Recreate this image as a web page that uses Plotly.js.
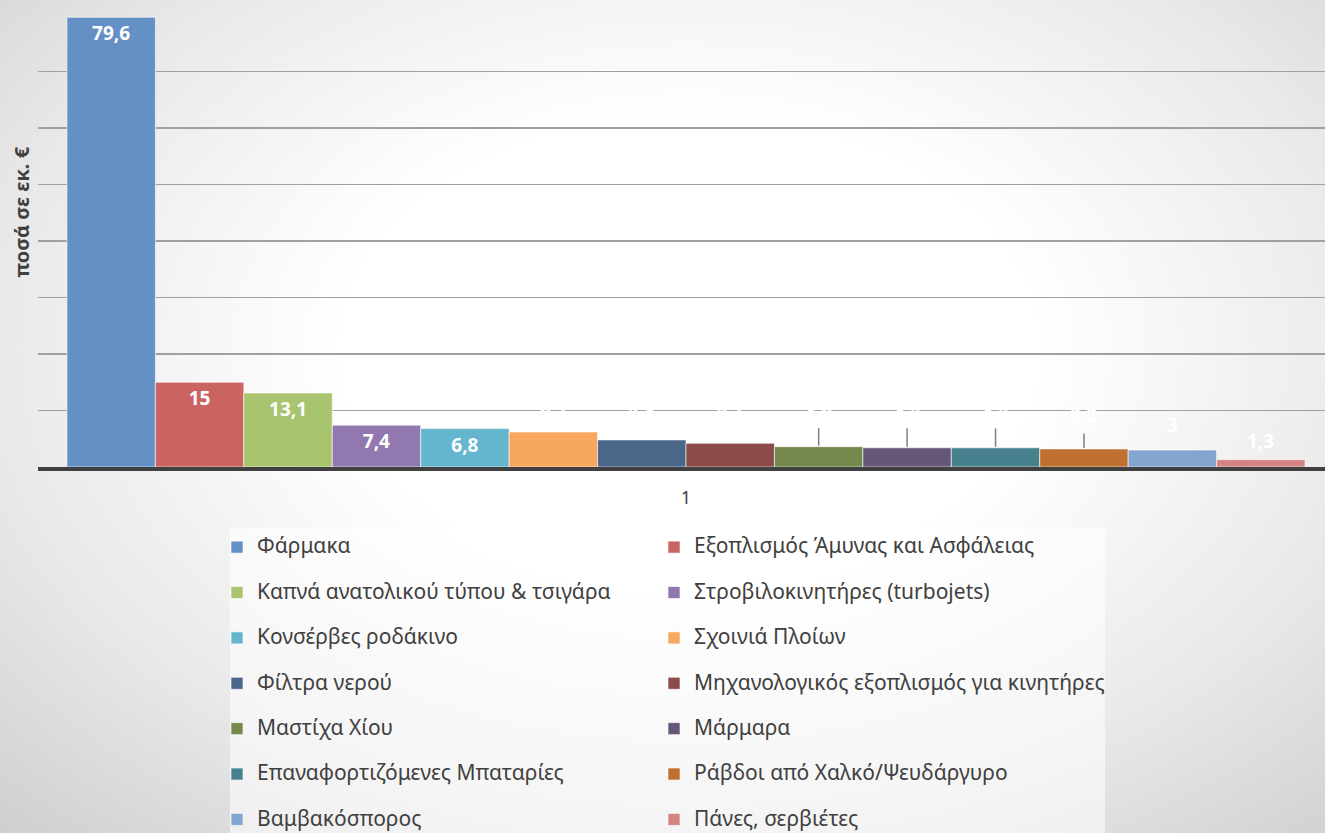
<!DOCTYPE html>
<html>
<head>
<meta charset="utf-8">
<script src="https://cdn.plot.ly/plotly-3.0.1.min.js"></script>
<style>
  html, body { margin:0; padding:0; width:1325px; height:833px; overflow:hidden;
    background: radial-gradient(ellipse 75% 80% at 52% 42%, #ffffff 35%, #e9e9e9 70%, #cfcfcf 100%); }
  #chart { width:1325px; height:833px; }
</style>
</head>
<body>
<div id="chart"></div>
<script>
const categories = ["1"];
const seriesNames = [
  "Φάρμακα",
  "Εξοπλισμός Άμυνας και Ασφάλειας",
  "Καπνά ανατολικού τύπου & τσιγάρα",
  "Στροβιλοκινητήρες (turbojets)",
  "Κονσέρβες ροδάκινο",
  "Σχοινιά Πλοίων",
  "Φίλτρα νερού",
  "Μηχανολογικός εξοπλισμός για κινητήρες",
  "Μαστίχα Χίου",
  "Μάρμαρα",
  "Επαναφορτιζόμενες Μπαταρίες",
  "Ράβδοι από Χαλκό/Ψευδάργυρο",
  "Βαμβακόσπορος",
  "Πάνες, σερβιέτες"
];
const seriesValues = [79.6, 15, 13.1, 7.4, 6.8, 6.2, 4.8, 4.2, 3.6, 3.4, 3.4, 3.2, 3, 1.3];
const seriesColors = ["#6490C6","#C96462","#A8C46E","#9179B0","#63B6CD","#F8A75F",
  "#4A678A","#8A4B4A","#76894D","#66577A","#47818D","#C0702E","#84A5D0","#D48383"];
const yTickValues = [0,10,20,30,40,50,60,70,80];
const yTitle = "ποσά σε εκ. €";

// label styling (pixel offsets of the outside labels above their bars, leader line flag)
const outsideLabelShift = [0, 0, 0, 0, 0, 22, 30, 34, 37, 38, 38, 34, 25, 19];
const hasLeader = [false,false,false,false,false,false,false,false,true,true,true,true,false,false];
const INSIDE_COUNT = 5;

const FONT = "Noto Sans, Open Sans, sans-serif";
const LBL = { color: "#ffffff", size: 19, family: FONT, weight: "bold" };
const BARGAP = 0.038;
const nBars = seriesValues.length;
const fmt = v => String(v).replace(".", ",");

const traces = seriesNames.map((name, i) => ({
  type: "bar",
  name: "<span style='font-size:21px'>" + name + "</span>" + (i < nBars - 2 ? "<br> " : ""),
  legend: i % 2 === 0 ? "legend" : "legend2",
  x: categories,
  y: [seriesValues[i]],
  text: i < INSIDE_COUNT ? [fmt(seriesValues[i])] : [""],
  textposition: i < INSIDE_COUNT ? "inside" : "none",
  insidetextanchor: "end",
  textangle: 0,
  textfont: LBL,
  insidetextfont: LBL,
  marker: { color: seriesColors[i], line: { color: "rgba(255,255,255,0.6)", width: 1 } },
  hoverinfo: "name+y"
}));

// centre of bar i inside the single category group
const groupW = 1 - BARGAP;
const barX = i => -groupW / 2 + (i + 0.5) * groupW / nBars;

const annotations = [{
  text: yTitle,
  xref: "paper", yref: "paper",
  x: -0.0124, y: 0.5624,
  xanchor: "center", yanchor: "middle",
  textangle: -90,
  showarrow: false,
  font: { size: 20, color: "#404040", family: FONT, weight: "bold" }
}];
seriesValues.forEach((v, i) => {
  if (i < INSIDE_COUNT) return;
  if (hasLeader[i]) {
    annotations.push({
      text: fmt(v), xref: "x", yref: "y", x: barX(i), y: v,
      showarrow: true, ax: 0, ay: -outsideLabelShift[i],
      arrowhead: 0, arrowwidth: 1.5, arrowcolor: "#7f7f7f",
      standoff: 1, startstandoff: 4,
      font: LBL
    });
  } else {
    annotations.push({
      text: fmt(v), xref: "x", yref: "y", x: barX(i), y: v,
      showarrow: false, yanchor: "middle", yshift: outsideLabelShift[i],
      font: LBL
    });
  }
});

const legendCommon = {
  orientation: "v",
  xref: "container", yref: "container",
  xanchor: "left", yanchor: "top",
  y: 0.3637,
  bgcolor: "rgba(0,0,0,0)",
  borderwidth: 0,
  valign: "top",
  traceorder: "normal",
  font: { size: 16.3, color: "#404040", family: FONT }
};

const layout = {
  width: 1325, height: 833,
  paper_bgcolor: "rgba(0,0,0,0)",
  plot_bgcolor: "rgba(0,0,0,0)",
  margin: { l: 38, r: 0, t: 15, b: 365.5, pad: 0, autoexpand: false },
  barmode: "group",
  bargap: BARGAP,
  bargroupgap: 0,
  separators: ", ",
  showlegend: true,
  font: { family: FONT, color: "#404040" },
  xaxis: {
    type: "category",
    range: [-0.5035, 0.4965],
    showgrid: false,
    showline: true,
    linecolor: "#404040",
    linewidth: 4,
    ticks: "",
    ticklabelstandoff: 11,
    tickfont: { size: 18, color: "#404040", family: FONT },
    zeroline: false
  },
  yaxis: {
    range: [0, 80],
    tickvals: yTickValues,
    showticklabels: false,
    showgrid: true,
    gridcolor: "#a0a0a0",
    gridwidth: 1.5,
    zeroline: false,
    showline: false,
    ticks: ""
  },
  annotations: annotations,
  shapes: [{
    type: "rect", layer: "below",
    xref: "paper", yref: "paper",
    x0: (230 - 38) / 1287, x1: (1105 - 38) / 1287,
    y0: (467.5 - 840) / 452.5, y1: (467.5 - 528) / 452.5,
    fillcolor: "rgba(255,255,255,0.55)",
    line: { width: 0 }
  }],
  legend: Object.assign({}, legendCommon, { x: 217 / 1325 }),
  legend2: Object.assign({}, legendCommon, { x: 654 / 1325 })
};

Plotly.newPlot("chart", traces, layout, { displayModeBar: false, staticPlot: true });
</script>
</body>
</html>
